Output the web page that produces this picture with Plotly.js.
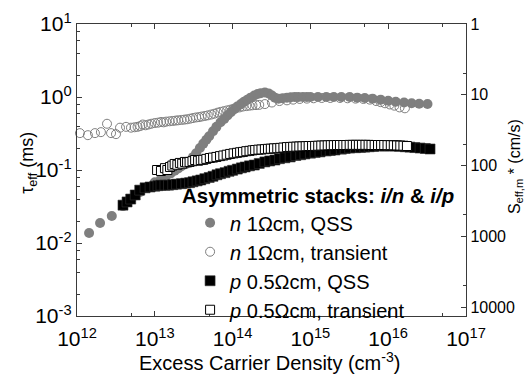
<!DOCTYPE html>
<html>
<head>
<meta charset="utf-8">
<script src="https://cdn.plot.ly/plotly-3.0.1.min.js"></script>
<style>html,body{margin:0;padding:0;background:#fff;}#chart{width:526px;height:377px;}</style>
</head>
<body>
<div id="chart"></div>
<script>
// n 1 Ohm cm, QSS (grey filled circles)
const nQssX = [1.43e12,1.98e12,2.8e12,3.9e12,5e12,6.5e12,8e12,1e13,1.2e13,1.4e13,1.6e13,1.8e13,2e13,2.2e13,2.5e13,2.8e13,3.1e13,3.4e13,3.8e13,4.2e13,4.6e13,5e13,5.6e13,6.2e13,7e13,7.8e13,8.6e13,9.5e13,1.05e14,1.15e14,1.28e14,1.4e14,1.55e14,1.7e14,1.9e14,2.1e14,2.3e14,2.6e14,2.9e14,3.2e14,3.5e14,3.9e14,4.4e14,5e14,5.6e14,6.3e14,7e14,8e14,9e14,1e15,1.25e15,1.6e15,2e15,2.5e15,3.2e15,4e15,5e15,6.3e15,8e15,1e16,1.25e16,1.6e16,2e16,2.5e16,3.2e16];
const nQssY = [0.0137,0.0188,0.0234,0.032,0.04,0.05,0.058,0.068,0.075,0.083,0.09,0.098,0.105,0.113,0.12,0.13,0.15,0.17,0.2,0.23,0.26,0.29,0.34,0.39,0.45,0.5,0.56,0.62,0.68,0.74,0.8,0.86,0.92,0.98,1.05,1.1,1.13,1.15,1.12,1.05,0.98,0.95,0.96,0.98,0.99,1.0,1.0,1.0,1.0,1.0,1.0,1.0,1.0,1.0,1.0,0.98,0.97,0.95,0.92,0.89,0.86,0.84,0.82,0.81,0.8];

// n 1 Ohm cm, transient (grey open circles)
const nTrX = [0.89e12,1.09e12,1.38e12,1.7e12,2.03e12,2.43e12,2.74e12,3.17e12,3.57e12,4.27e12,4.94e12,5.5e12,6e12,6.5e12,7e12,7.6e12,8.3e12,9e12,1e13,1.1e13,1.2e13,1.3e13,1.4e13,1.55e13,1.7e13,1.85e13,2e13,2.2e13,2.4e13,2.6e13,2.85e13,3.1e13,3.4e13,3.7e13,4e13,4.4e13,4.8e13,5.3e13,5.8e13,6.4e13,7e13,7.7e13,8.5e13,9.3e13,1.02e14,1.12e14,1.23e14,1.35e14,1.5e14,1.65e14,1.8e14,2e14,2.2e14,2.6e14,3.2e14,4e14,5e14,6e14,7.3e14,9e14,1.1e15,1.4e15,1.8e15,2.4e15,3e15,3.8e15,4.8e15,5.8e15,7e15,8e15,9.1e15,1.05e16,1.2e16,1.4e16,1.64e16];
const nTrY = [0.30,0.32,0.30,0.32,0.33,0.43,0.32,0.31,0.38,0.39,0.38,0.385,0.39,0.40,0.42,0.41,0.42,0.43,0.44,0.445,0.455,0.45,0.46,0.465,0.47,0.475,0.48,0.485,0.49,0.495,0.505,0.515,0.525,0.53,0.54,0.55,0.56,0.575,0.59,0.61,0.625,0.64,0.655,0.67,0.69,0.71,0.72,0.74,0.75,0.76,0.77,0.775,0.78,0.80,0.84,0.88,0.90,0.92,0.94,0.95,0.96,0.97,0.97,0.97,0.96,0.95,0.94,0.92,0.88,0.85,0.82,0.79,0.76,0.72,0.70];

// p 0.5 Ohm cm, QSS (black filled squares)
const pQssX = [3.9e12,4.4e12,4.9e12,5.6e12,6.4e12,7.5e12,8.7e12,1e13,1.1e13,1.2e13,1.35e13,1.5e13,1.7e13,1.9e13,2.2e13,2.5e13,2.8e13,3.1e13,3.5e13,3.9e13,4.4e13,5e13,5.6e13,6.3e13,7e13,8e13,9e13,1e14,1.15e14,1.3e14,1.45e14,1.65e14,1.9e14,2.2e14,2.6e14,3e14,3.5e14,4e14,4.7e14,5.5e14,6.5e14,7.5e14,8.5e14,1e15,1.15e15,1.33e15,1.6e15,1.8e15,2.07e15,2.5e15,2.8e15,3.2e15,3.8e15,4.4e15,5e15,5.7e15,6.5e15,7.8e15,9e15,1.05e16,1.22e16,1.4e16,1.65e16,1.9e16,2.2e16,2.57e16,3e16,3.45e16];
const pQssY = [0.033,0.0365,0.040,0.0455,0.053,0.057,0.0585,0.060,0.061,0.062,0.062,0.062,0.063,0.064,0.065,0.066,0.067,0.069,0.071,0.073,0.076,0.079,0.082,0.086,0.089,0.092,0.096,0.099,0.103,0.107,0.11,0.114,0.117,0.123,0.129,0.133,0.137,0.143,0.147,0.151,0.158,0.162,0.166,0.17,0.174,0.177,0.182,0.185,0.188,0.193,0.197,0.20,0.202,0.204,0.206,0.208,0.21,0.213,0.213,0.213,0.213,0.211,0.208,0.206,0.203,0.20,0.197,0.194];

// p 0.5 Ohm cm, transient (open squares)
const pTrX = [1.07e13,1.2e13,1.35e13,1.45e13,1.57e13,1.68e13,1.8e13,1.95e13,2.1e13,2.25e13,2.44e13,2.6e13,2.8e13,3.05e13,3.3e13,3.6e13,3.9e13,4.2e13,4.6e13,5.1e13,5.6e13,6.2e13,6.9e13,7.6e13,8.4e13,9.3e13,1.03e14,1.14e14,1.25e14,1.36e14,1.5e14,1.65e14,1.8e14,1.95e14,2.15e14,2.35e14,2.6e14,2.85e14,3.1e14,3.4e14,3.75e14,4.1e14,4.5e14,5e14,5.5e14,6e14,6.6e14,7.2e14,7.9e14,8.7e14,9.5e14,1.05e15,1.15e15,1.26e15,1.38e15,1.52e15,1.67e15,1.83e15,2e15,2.2e15,2.4e15,2.65e15,2.9e15,3.2e15,3.5e15,3.85e15,4.2e15,4.6e15,5.1e15,5.6e15,6.1e15,6.7e15,7.4e15,8.1e15,8.9e15,9.8e15,1.08e16,1.18e16,1.3e16,1.43e16,1.57e16,1.74e16];
const pTrY = [0.10,0.097,0.106,0.10,0.11,0.115,0.121,0.118,0.125,0.122,0.129,0.127,0.129,0.132,0.137,0.134,0.137,0.138,0.142,0.146,0.148,0.151,0.155,0.158,0.162,0.166,0.169,0.172,0.175,0.177,0.181,0.183,0.186,0.188,0.190,0.191,0.193,0.195,0.196,0.198,0.199,0.201,0.203,0.206,0.207,0.208,0.209,0.210,0.211,0.212,0.213,0.213,0.214,0.215,0.216,0.217,0.218,0.219,0.219,0.22,0.22,0.22,0.22,0.221,0.221,0.221,0.221,0.221,0.221,0.221,0.22,0.22,0.22,0.22,0.22,0.219,0.219,0.218,0.217,0.216,0.215,0.213];

const seriesNames = ['<i>n</i> 1\u03A9cm, QSS','<i>n</i> 1\u03A9cm, transient','<i>p</i> 0.5\u03A9cm, QSS','<i>p</i> 0.5\u03A9cm, transient'];

const xTickVals = [1e12,1e13,1e14,1e15,1e16,1e17];
const xTickText = ['10<sup>12</sup>','10<sup>13</sup>','10<sup>14</sup>','10<sup>15</sup>','10<sup>16</sup>','10<sup>17</sup>'];
const xMinor = [5e12,5e13,5e14,5e15,5e16];
const yTickVals = [1e-3,1e-2,1e-1,1,10];
const yTickText = ['10<sup>-3</sup>','10<sup>-2</sup>','10<sup>-1</sup>','10<sup>0</sup>','10<sup>1</sup>'];
const yMinor = [2e-3,4e-3,6e-3,8e-3,2e-2,4e-2,6e-2,8e-2,0.2,0.4,0.6,0.8,2,4,6,8];
const sTickVals = [1,10,100,1000,10000];
const sTickText = ['1','10','100','1000','10000'];
const sMinor = [5,50,500,5000];

const grey = '#7f7f7f';
const axCol = '#3a3a3a';
const FONT = 'Liberation Sans, Arial, Helvetica, sans-serif';

const traces = [
  {x:nTrX, y:nTrY, type:'scatter', mode:'markers', name:seriesNames[1], legendrank:2, cliponaxis:false,
   marker:{symbol:'circle-open', size:9, color:grey, line:{width:1, color:grey}}},
  {x:nQssX, y:nQssY, type:'scatter', mode:'markers', name:seriesNames[0], legendrank:1,
   marker:{symbol:'circle', size:10, color:grey, line:{width:0}}},
  {x:pQssX, y:pQssY, type:'scatter', mode:'markers', name:seriesNames[2], legendrank:3,
   marker:{symbol:'square', size:10, color:'#000', line:{width:0.6, color:'#333'}}},
  {x:pTrX, y:pTrY, type:'scatter', mode:'markers', name:seriesNames[3], legendrank:4,
   marker:{symbol:'square', size:9, color:'#fff', line:{width:1, color:'#000'}}},
  {x:[], y:[], type:'scatter', mode:'markers', yaxis:'y2', showlegend:false, hoverinfo:'skip'}
];

const commonAx = {
  showgrid:false, zeroline:false, showline:true, linecolor:axCol, linewidth:1.2,
  ticks:'inside', ticklen:5, tickwidth:1, tickcolor:axCol
};

const layout = {
  width:526, height:377,
  margin:{l:77, r:60, t:24, b:61, pad:0},
  paper_bgcolor:'#fff', plot_bgcolor:'#fff',
  font:{family:FONT, color:'#000'},
  showlegend:true,
  xaxis:Object.assign({}, commonAx, {
    type:'log', range:[12,17], autorange:false, mirror:'ticks',
    tickmode:'array', tickvals:xTickVals, ticktext:xTickText, tickfont:{size:21},
    ticklabelstandoff:4,
    minor:{tickmode:'array', tickvals:xMinor, ticks:'inside', ticklen:3, tickcolor:axCol, tickwidth:1, showgrid:false}
  }),
  yaxis:Object.assign({}, commonAx, {
    type:'log', range:[-3,1], autorange:false,
    tickmode:'array', tickvals:yTickVals, ticktext:yTickText, tickfont:{size:21},
    minor:{tickmode:'array', tickvals:yMinor, ticks:'inside', ticklen:3, tickcolor:axCol, tickwidth:1, showgrid:false}
  }),
  yaxis2:Object.assign({}, commonAx, {
    type:'log', overlaying:'y', side:'right', range:[4.127,0], autorange:false,
    tickmode:'array', tickvals:sTickVals, ticktext:sTickText, tickfont:{size:16},
    minor:{tickmode:'array', tickvals:sMinor, ticks:'inside', ticklen:3, tickcolor:axCol, tickwidth:1, showgrid:false}
  }),
  legend:{
    x:0.265, xanchor:'left', y:0.477, yanchor:'top',
    bgcolor:'rgba(0,0,0,0)', borderwidth:0, indentation:10,
    font:{size:20, family:FONT, color:'#000'},
    title:{text:'<b>Asymmetric stacks: <i>i/n</i> &amp; <i>i/p</i></b>', font:{size:20.4, family:FONT}},
    traceorder:'normal'
  },
  annotations:[
    {text:'\u03C4<sub>eff</sub> (ms)', textangle:-90, xref:'paper', yref:'paper', x:-0.124, y:0.524,
     xanchor:'center', yanchor:'middle', showarrow:false, font:{size:18}},
    {text:'S<sub>eff,m</sub> * (cm/s)', textangle:-90, xref:'paper', yref:'paper', x:1.126, y:0.51,
     xanchor:'center', yanchor:'middle', showarrow:false, font:{size:16}},
    {text:'Excess Carrier Density (cm<sup>-3</sup>)', xref:'paper', yref:'paper', x:0.494, y:-0.155,
     xanchor:'center', yanchor:'middle', showarrow:false, font:{size:20}}
  ]
};

Plotly.newPlot('chart', traces, layout, {displayModeBar:false, staticPlot:true});
</script>
</body>
</html>
